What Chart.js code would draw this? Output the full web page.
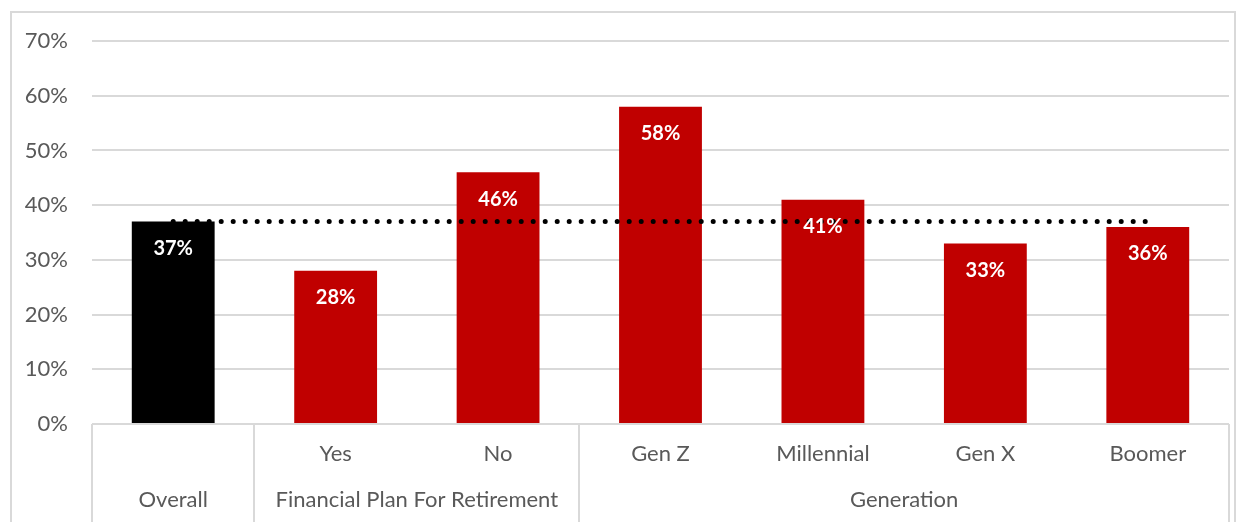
<!DOCTYPE html>
<html>
<head>
<meta charset="utf-8">
<script src="https://cdn.jsdelivr.net/npm/chart.js@4.4.1/dist/chart.umd.min.js"></script>
<style>
  html, body { margin: 0; padding: 0; background: #fff; }
  #wrap { position: relative; width: 1248px; height: 522px; overflow: hidden; }
  #frame {
    position: absolute; left: 10px; top: 11px; width: 1226px; height: 600px;
    border: 2px solid #d9d9d9; box-sizing: border-box;
  }
  canvas { position: absolute; left: 0; top: 0; }
</style>
</head>
<body>
<div id="wrap">
  <div id="frame"></div>
  <canvas id="grafico" width="1248" height="522"></canvas>
</div>
<script>
// Categorias e valores
const categorias = ["Overall", "Yes", "No", "Gen Z", "Millennial", "Gen X", "Boomer"];
const valores = [37, 28, 46, 58, 41, 33, 36];
const coresBarras = ["#000000", "#c00000", "#c00000", "#c00000", "#c00000", "#c00000", "#c00000"];

// Grupos do eixo X (índice inicial e final)
const grupos = [
  { nome: "Overall", inicio: 0, fim: 0 },
  { nome: "Financial Plan For Retirement", inicio: 1, fim: 2 },
  { nome: "Generation", inicio: 3, fim: 6 },
];

const mediaGeral = valores[0];
const linhaMedia = categorias.map(() => mediaGeral);

const FONTE = "Lato, 'Open Sans', sans-serif";
const COR_TEXTO = "#595959";
const COR_GRADE = "#d9d9d9";

// Rótulos dentro das barras
const rotulosBarras = {
  id: "rotulosBarras",
  afterDatasetsDraw(chart) {
    const ctx = chart.ctx;
    const meta = chart.getDatasetMeta(1);
    ctx.save();
    ctx.fillStyle = "#ffffff";
    ctx.font = "bold 20px " + FONTE;
    ctx.textAlign = "center";
    ctx.textBaseline = "middle";
    meta.data.forEach((barra, i) => {
      ctx.fillText(valores[i] + "%", barra.x, barra.y + 27);
    });
    ctx.restore();
  },
};

// Eixo X em dois níveis com linhas divisórias
const eixoAgrupado = {
  id: "eixoAgrupado",
  afterDraw(chart) {
    const ctx = chart.ctx;
    const x = chart.scales.x;
    const area = chart.chartArea;
    const passo = x.getPixelForValue(1) - x.getPixelForValue(0);
    ctx.save();
    ctx.strokeStyle = COR_GRADE;
    ctx.lineWidth = 2;
    ctx.beginPath();
    ctx.moveTo(area.left, area.bottom);
    ctx.lineTo(area.right, area.bottom);
    ctx.stroke();

    ctx.fillStyle = COR_TEXTO;
    ctx.font = "22px " + FONTE;
    ctx.textAlign = "center";
    ctx.textBaseline = "middle";

    grupos.forEach((g) => {
      const esq = x.getPixelForValue(g.inicio) - passo / 2;
      const dir = x.getPixelForValue(g.fim) + passo / 2;
      ctx.beginPath();
      ctx.moveTo(Math.round(esq), area.bottom);
      ctx.lineTo(Math.round(esq), chart.height);
      ctx.moveTo(Math.round(dir), area.bottom);
      ctx.lineTo(Math.round(dir), chart.height);
      ctx.stroke();
      ctx.fillText(g.nome, (esq + dir) / 2, area.bottom + 76);
      if (g.fim > g.inicio) {
        for (let i = g.inicio; i <= g.fim; i++) {
          ctx.fillText(categorias[i], x.getPixelForValue(i), area.bottom + 30);
        }
      }
    });
    ctx.restore();
  },
};

new Chart(document.getElementById("grafico"), {
  data: {
    labels: categorias,
    datasets: [
      {
        type: "line",
        data: linhaMedia,
        borderColor: "#000000",
        borderWidth: 5,
        borderDash: [0, 12],
        borderCapStyle: "round",
        pointRadius: 0,
        fill: false,
        order: 0,
      },
      {
        type: "bar",
        data: valores,
        backgroundColor: coresBarras,
        borderWidth: 0,
        barPercentage: 0.51,
        categoryPercentage: 1,
        order: 1,
      },
    ],
  },
  plugins: [rotulosBarras, eixoAgrupado],
  options: {
    responsive: false,
    animation: false,
    layout: { padding: { top: 41, right: 19, left: 0, bottom: 0 } },
    plugins: { legend: { display: false }, tooltip: { enabled: false } },
    scales: {
      x: {
        grid: { display: false },
        border: { display: false },
        ticks: { display: false },
        afterFit(scale) { scale.height = 98; },
      },
      y: {
        min: 0,
        max: 70,
        border: { display: false },
        grid: { color: COR_GRADE, lineWidth: 2, drawTicks: false },
        ticks: {
          stepSize: 10,
          padding: 24,
          color: COR_TEXTO,
          font: { family: FONTE, size: 22 },
          callback: (v) => v + "%",
        },
        afterFit(scale) { scale.width = 92; },
      },
    },
  },
});
</script>
</body>
</html>
